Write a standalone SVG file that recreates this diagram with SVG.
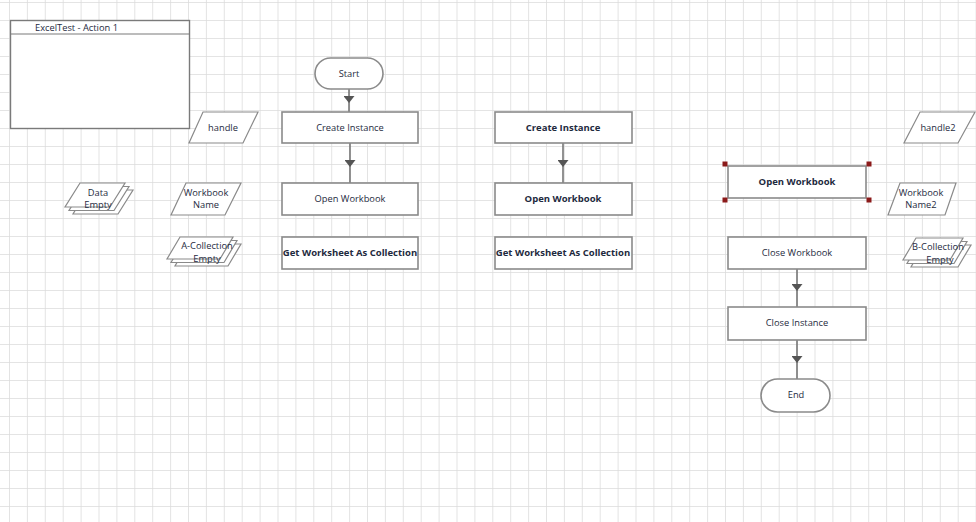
<svg xmlns="http://www.w3.org/2000/svg" width="976" height="522" viewBox="0 0 976 522">
<defs>
<pattern id="grid" x="9" y="2" width="17.9" height="18" patternUnits="userSpaceOnUse">
<path d="M0,0 V18 M0,0 H17.9" fill="none" stroke="#dcdcdc" stroke-width="1.6"/>
</pattern>
<marker id="arr" viewBox="0 0 7 11" refX="7" refY="5.5" markerWidth="7" markerHeight="11" markerUnits="userSpaceOnUse" orient="auto">
<path d="M0,0 L7,5.5 L0,11 z" fill="#555"/>
</marker>
<style>
.box{fill:#fff;stroke:#8a8a8a;stroke-width:1.6}
.data{fill:#fff;stroke:#8a8a8a;stroke-width:1.2}
.t{font-family:"Open Sans","Noto Sans",sans-serif;font-size:9.3px;fill:#1e2a3e;text-anchor:middle}
.b{font-weight:bold;font-size:9.5px}
.conn{fill:none;stroke:#6e6e6e;stroke-width:1.5;marker-mid:url(#arr)}
.h{fill:#8b1a1a}
</style>
</defs>
<rect width="976" height="522" fill="#fff"/>
<rect width="976" height="522" fill="url(#grid)"/>

<g id="excel-frame">
<rect x="10.5" y="20.5" width="179" height="108" fill="#fff" stroke="#7a7a7a" stroke-width="1.4"/>
<line x1="10.5" y1="34" x2="189.5" y2="34" stroke="#7a7a7a" stroke-width="1.2"/>
<text x="35" y="31" class="t" style="text-anchor:start">ExcelTest - Action 1</text>
</g>

<g id="connectors">
<path class="conn" d="M349,89 V103 V112"/>
<path class="conn" d="M350,143 V167 V183"/>
<path class="conn" d="M563,143 V167 V183"/>
<path class="conn" d="M797,269 V291 V307"/>
<path class="conn" d="M797,340 V363 V379"/>
</g>

<g id="start">
<rect class="box" x="315" y="58" width="68" height="31" rx="15.5"/>
<text class="t" x="349" y="77">Start</text>
</g>
<g id="create-instance-1">
<rect class="box" x="282" y="112" width="136" height="31"/>
<text class="t" x="350" y="131">Create Instance</text>
</g>
<g id="open-workbook-1">
<rect class="box" x="282" y="183" width="136" height="32"/>
<text class="t" x="350" y="202">Open Workbook</text>
</g>
<g id="get-worksheet-1">
<rect class="box" x="282" y="237" width="136" height="32"/>
<text class="t b" x="350" y="256">Get Worksheet As Collection</text>
</g>

<g id="create-instance-2">
<rect class="box" x="495" y="112" width="137" height="31"/>
<text class="t b" x="563" y="131">Create Instance</text>
</g>
<g id="open-workbook-2">
<rect class="box" x="495" y="183" width="137" height="32"/>
<text class="t b" x="563" y="202">Open Workbook</text>
</g>
<g id="get-worksheet-2">
<rect class="box" x="495" y="237" width="137" height="32"/>
<text class="t b" x="563" y="256">Get Worksheet As Collection</text>
</g>

<g id="open-workbook-3">
<rect class="box" x="728" y="166" width="138" height="32"/>
<text class="t b" x="797" y="185">Open Workbook</text>
<rect class="h" x="722.5" y="161.5" width="5" height="5"/>
<rect class="h" x="866.5" y="161.5" width="5" height="5"/>
<rect class="h" x="722.5" y="197.5" width="5" height="5"/>
<rect class="h" x="866.5" y="197.5" width="5" height="5"/>
</g>
<g id="close-workbook">
<rect class="box" x="728" y="237" width="138" height="32"/>
<text class="t" x="797" y="256">Close Workbook</text>
</g>
<g id="close-instance">
<rect class="box" x="728" y="307" width="138" height="33"/>
<text class="t" x="797" y="326">Close Instance</text>
</g>
<g id="end">
<rect class="box" x="761" y="379" width="69" height="33" rx="16.5"/>
<text class="t" x="796" y="398">End</text>
</g>

<g id="handle">
<polygon class="data" points="203,112 258,112 243,143 189,143"/>
<text class="t" x="223" y="131">handle</text>
</g>
<g id="workbook-name">
<polygon class="data" points="186,183 241,183 225,215 171,215"/>
<text class="t" x="206" y="196">Workbook</text>
<text class="t" x="206" y="208">Name</text>
</g>
<g id="data-empty">
<polygon class="data" points="88,190 133,190 118,214 73,214"/>
<polygon class="data" points="84,186.5 129,186.5 114,210.5 69,210.5"/>
<polygon class="data" points="80,183 125,183 110,207 65,207"/>
<text class="t" x="98" y="196">Data</text>
<text class="t" x="98" y="208">Empty</text>
</g>
<g id="a-collection">
<polygon class="data" points="188,244 241,244 228,266 175,266"/>
<polygon class="data" points="184,240.5 237,240.5 224,262.5 171,262.5"/>
<polygon class="data" points="180,237 233,237 220,259 167,259"/>
<text class="t" x="207" y="249">A-Collection</text>
<text class="t" x="207" y="262">Empty</text>
</g>
<g id="handle2">
<polygon class="data" points="920,112 975,112 958,143 904,143"/>
<text class="t" x="938" y="131">handle2</text>
</g>
<g id="workbook-name2">
<polygon class="data" points="900,183 956,183 945,215 888,215"/>
<text class="t" x="921" y="196">Workbook</text>
<text class="t" x="921" y="208">Name2</text>
</g>
<g id="b-collection">
<polygon class="data" points="924,245 971,245 958,267 911,267"/>
<polygon class="data" points="920,241.5 967,241.5 954,263.5 907,263.5"/>
<polygon class="data" points="916,238 963,238 950,260 903,260"/>
<text class="t" x="938" y="250">B-Collection</text>
<text class="t" x="940" y="263">Empty</text>
</g>
</svg>
